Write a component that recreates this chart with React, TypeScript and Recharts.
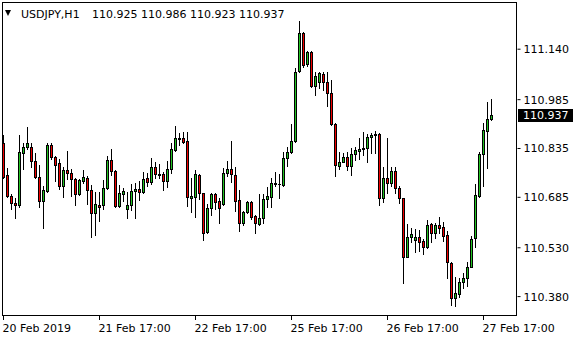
import { ComposedChart, Bar, XAxis, YAxis, ReferenceLine } from "recharts";

// USDJPY H1 candles
const opens = [
  110.853, 110.754, 110.689, 110.667, 110.661, 110.822, 110.839, 110.840, 110.797, 110.748,
  110.673, 110.705, 110.846, 110.809, 110.791, 110.721, 110.769, 110.760, 110.741, 110.696,
  110.734, 110.744, 110.708, 110.638, 110.660, 110.660, 110.714, 110.799, 110.767, 110.658,
  110.696, 110.650, 110.660, 110.703, 110.711, 110.702, 110.743, 110.733, 110.777, 110.757,
  110.757, 110.736, 110.771, 110.830, 110.863, 110.866, 110.858, 110.684, 110.685, 110.754,
  110.697, 110.578, 110.651, 110.694, 110.674, 110.663, 110.759, 110.772, 110.753, 110.677,
  110.607, 110.641, 110.670, 110.628, 110.603, 110.620, 110.680, 110.685, 110.725, 110.727,
  110.723, 110.805, 110.823, 110.859, 111.073, 111.191, 111.094, 111.130, 111.028, 111.038,
  111.063, 111.038, 111.005, 110.910, 110.781, 110.793, 110.808, 110.782, 110.817, 110.828,
  110.833, 110.836, 110.871, 110.875, 110.879, 110.682, 110.743, 110.728, 110.766, 110.715,
  110.682, 110.503, 110.562, 110.554, 110.562, 110.551, 110.531, 110.602, 110.574, 110.600,
  110.593, 110.569, 110.484, 110.375, 110.387, 110.426, 110.436, 110.472, 110.559, 110.689,
  110.817, 110.889, 110.925,
];
const highs = [
  110.876, 110.774, 110.694, 110.682, 110.876, 110.853, 110.900, 110.851, 110.820, 110.784,
  110.720, 110.853, 110.851, 110.812, 110.804, 110.779, 110.827, 110.772, 110.745, 110.742,
  110.768, 110.750, 110.723, 110.702, 110.702, 110.738, 110.812, 110.833, 110.770, 110.723,
  110.713, 110.702, 110.726, 110.728, 110.736, 110.762, 110.759, 110.805, 110.795, 110.786,
  110.764, 110.797, 110.851, 110.904, 110.884, 110.885, 110.885, 110.743, 110.769, 110.757,
  110.699, 110.665, 110.699, 110.697, 110.682, 110.774, 110.797, 110.858, 110.779, 110.708,
  110.644, 110.675, 110.675, 110.631, 110.694, 110.694, 110.716, 110.745, 110.762, 110.756,
  110.825, 110.841, 110.909, 111.081, 111.227, 111.194, 111.135, 111.135, 111.071, 111.071,
  111.071, 111.071, 111.045, 110.912, 110.825, 110.822, 110.823, 110.838, 110.841, 110.866,
  110.885, 110.880, 110.882, 110.889, 110.882, 110.779, 110.866, 110.779, 110.779, 110.720,
  110.684, 110.602, 110.590, 110.587, 110.585, 110.557, 110.615, 110.605, 110.605, 110.626,
  110.608, 110.580, 110.486, 110.439, 110.436, 110.452, 110.485, 110.566, 110.725, 110.825,
  110.914, 110.979, 110.986,
];
const lows = [
  110.743, 110.687, 110.648, 110.620, 110.656, 110.771, 110.832, 110.779, 110.743, 110.654,
  110.590, 110.702, 110.802, 110.736, 110.710, 110.687, 110.741, 110.690, 110.660, 110.692,
  110.730, 110.663, 110.564, 110.569, 110.613, 110.648, 110.711, 110.754, 110.656, 110.654,
  110.675, 110.620, 110.646, 110.622, 110.677, 110.697, 110.720, 110.726, 110.743, 110.743,
  110.706, 110.718, 110.760, 110.827, 110.846, 110.851, 110.658, 110.641, 110.626, 110.679,
  110.554, 110.574, 110.631, 110.648, 110.605, 110.660, 110.750, 110.733, 110.644, 110.582,
  110.600, 110.636, 110.617, 110.574, 110.600, 110.605, 110.656, 110.656, 110.721, 110.684,
  110.721, 110.782, 110.820, 110.854, 111.071, 111.086, 111.089, 111.025, 110.999, 111.020,
  111.015, 110.967, 110.907, 110.749, 110.772, 110.792, 110.769, 110.754, 110.800, 110.802,
  110.815, 110.792, 110.820, 110.820, 110.662, 110.672, 110.697, 110.720, 110.697, 110.667,
  110.421, 110.501, 110.549, 110.518, 110.521, 110.510, 110.528, 110.549, 110.559, 110.574,
  110.552, 110.436, 110.354, 110.351, 110.378, 110.405, 110.413, 110.470, 110.531, 110.687,
  110.721, 110.776, 110.923,
];
const closes = [
  110.748, 110.690, 110.667, 110.662, 110.823, 110.840, 110.853, 110.798, 110.746, 110.673,
  110.708, 110.847, 110.808, 110.785, 110.721, 110.769, 110.759, 110.740, 110.696, 110.737,
  110.748, 110.706, 110.638, 110.663, 110.656, 110.713, 110.799, 110.765, 110.658, 110.697,
  110.704, 110.660, 110.704, 110.711, 110.702, 110.740, 110.733, 110.777, 110.757, 110.754,
  110.736, 110.772, 110.832, 110.866, 110.868, 110.856, 110.687, 110.689, 110.756, 110.699,
  110.574, 110.651, 110.694, 110.672, 110.653, 110.759, 110.772, 110.756, 110.675, 110.605,
  110.641, 110.670, 110.626, 110.605, 110.620, 110.680, 110.688, 110.728, 110.728, 110.726,
  110.805, 110.823, 110.859, 111.071, 111.189, 111.092, 111.130, 111.028, 111.058, 111.066,
  111.038, 111.005, 110.910, 110.784, 110.793, 110.808, 110.782, 110.818, 110.830, 110.834,
  110.838, 110.869, 110.877, 110.879, 110.682, 110.743, 110.730, 110.766, 110.715, 110.682,
  110.501, 110.562, 110.571, 110.562, 110.549, 110.531, 110.599, 110.574, 110.600, 110.590,
  110.567, 110.485, 110.375, 110.390, 110.424, 110.436, 110.472, 110.557, 110.691, 110.817,
  110.891, 110.925, 110.937,
];

const tickIndex = [0, 24, 48, 72, 96, 120];
const tickLabels = ["20 Feb 2019", "21 Feb 17:00", "22 Feb 17:00", "25 Feb 17:00", "26 Feb 17:00", "27 Feb 17:00"];
const priceTicks = [110.38, 110.53, 110.685, 110.835, 110.985, 111.14];
const lastPrice = 110.937;
const emptySlots = 6; // free space right of the last bar

const BULL = "#22c322";
const BEAR = "#f00000";
const FONT = "'DejaVu Sans', sans-serif";

const data = Array.from({ length: opens.length + emptySlots }, (_, i) =>
  i < opens.length
    ? { idx: i, range: [lows[i], highs[i]], o: opens[i], h: highs[i], l: lows[i], c: closes[i] }
    : { idx: i }
);

function Candle(props: any) {
  const { x, y, width, height, payload } = props;
  if (!payload || payload.o == null) return null;
  const { o, h, l, c } = payload;
  const top0 = Math.min(y, y + height);
  const hgt = Math.abs(height);
  const span = h - l;
  const toY = (p: number) => (span === 0 ? top0 : top0 + ((h - p) / span) * hgt);
  const col = Math.floor(x + width / 2);
  const yH = Math.round(top0);
  const yL = Math.round(top0 + hgt);
  const bTop = Math.round(toY(Math.max(o, c)));
  const bBot = Math.round(toY(Math.min(o, c)));
  return (
    <g>
      <rect x={col} y={yH} width={1} height={yL - yH + 1} fill="#000" />
      <rect x={col - 1} y={bTop} width={3} height={bBot - bTop + 1} fill="#000" />
      {bBot - bTop > 1 && (
        <rect x={col} y={bTop + 1} width={1} height={bBot - bTop - 1} fill={c >= o ? BULL : BEAR} />
      )}
    </g>
  );
}

function DateTick(props: any) {
  const { x, y, payload } = props;
  const k = tickIndex.indexOf(payload.value);
  if (k < 0) return null;
  return (
    <g>
      <line x1={x} x2={x} y1={y - 8} y2={y - 4} stroke="#000" />
      <text x={x - 1} y={y} dy="0.71em" textAnchor="start" fill="#000" fontSize={11} fontFamily={FONT}>
        {tickLabels[k]}
      </text>
    </g>
  );
}

function PriceTag(props: any) {
  const vb = props.viewBox;
  if (!vb) return null;
  const x = vb.x + vb.width + 0.5;
  const yc = Math.round(vb.y);
  return (
    <g>
      <rect x={x} y={yc - 6} width={55} height={13} fill="#000" />
      <text x={x + 5} y={yc} dy="0.36em" fill="#fff" fontSize={11} fontFamily={FONT}>
        {lastPrice.toFixed(3)}
      </text>
    </g>
  );
}

export default function App() {
  return (
    <div style={{ position: "absolute", left: 0, top: 0, width: 580, height: 340, background: "#fff" }}>
      <ComposedChart
        width={580}
        height={340}
        data={data}
        margin={{ top: 2, right: 0, bottom: 0, left: 1.5 }}
        barCategoryGap={0}
      >
        <XAxis
          dataKey="idx"
          type="category"
          interval={0}
          axisLine={false}
          tickLine={false}
          tickSize={4}
          tickMargin={4}
          height={24}
          tick={<DateTick />}
        />
        <YAxis
          orientation="right"
          type="number"
          domain={[110.3204, 111.285]}
          allowDataOverflow
          ticks={priceTicks}
          width={62.5}
          axisLine={false}
          tickLine={{ stroke: "#000" }}
          tickSize={3}
          tickMargin={3}
          tick={{ fill: "#000", fontSize: 11, fontFamily: FONT }}
          tickFormatter={(v: number) => v.toFixed(3)}
        />
        <Bar dataKey="range" shape={Candle} isAnimationActive={false} />
        <ReferenceLine y={lastPrice} stroke="none" label={PriceTag} />
      </ComposedChart>
      <div
        style={{
          position: "absolute",
          left: 2,
          top: 2,
          width: 515,
          height: 314,
          border: "1px solid #000",
          boxSizing: "border-box",
          pointerEvents: "none",
        }}
      />
      <div
        style={{
          position: "absolute",
          left: 5,
          top: 10,
          width: 0,
          height: 0,
          borderLeft: "3.5px solid transparent",
          borderRight: "3.5px solid transparent",
          borderTop: "6px solid #000",
        }}
      />
      <div style={{ position: "absolute", left: 21, top: 8, font: `11px/13px ${FONT}`, color: "#000", whiteSpace: "pre" }}>
        USDJPY,H1
      </div>
      <div style={{ position: "absolute", left: 92, top: 8, font: `11px/13px ${FONT}`, color: "#000", whiteSpace: "pre" }}>
        110.925 110.986 110.923 110.937
      </div>
    </div>
  );
}
